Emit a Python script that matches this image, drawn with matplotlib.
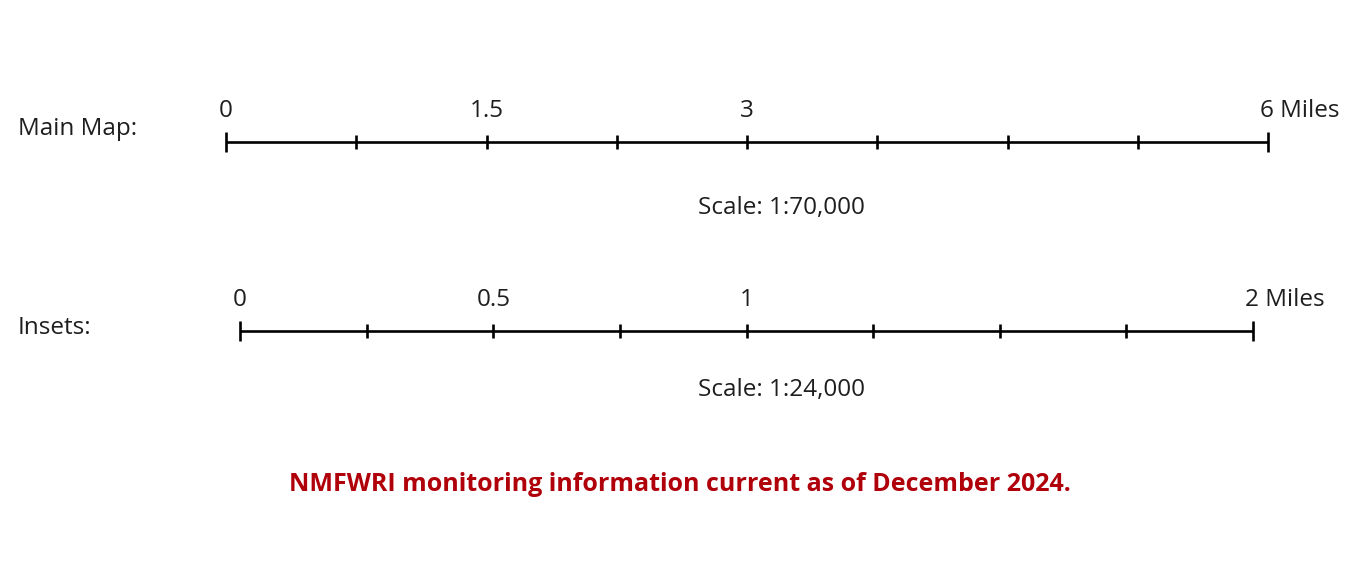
import matplotlib
matplotlib.use('Agg')
import matplotlib.pyplot as plt

plt.rcParams['font.family'] = ['Open Sans', 'DejaVu Sans']

# ── 数据 ──────────────────────────────────────────────
main_ticks = [0, 0.75, 1.5, 2.25, 3, 3.75, 4.5, 5.25, 6]
main_label_vals = [0, 1.5, 3, 6]
main_label_txt = ['0', '1.5', '3', '6 Miles']
main_scale = 'Scale: 1:70,000'

inset_ticks = [0, 0.25, 0.5, 0.75, 1, 1.25, 1.5, 1.75, 2]
inset_label_vals = [0, 0.5, 1, 2]
inset_label_txt = ['0', '0.5', '1', '2 Miles']
inset_scale = 'Scale: 1:24,000'

note = 'NMFWRI monitoring information current as of December 2024.'

W, H = 1349, 576
fig = plt.figure(figsize=(W / 100, H / 100), dpi=100)
FS = 17.5
TXT = '#1e1e1e'


def scale_bar(x0, x1, y, ticks, label_vals, label_txt):
    ax = fig.add_axes([x0 / W, 0, (x1 - x0) / W, 1])
    ax.set_xlim(ticks[0], ticks[-1])
    ax.set_ylim(H, 0)
    ax.axis('off')
    ax.plot([ticks[0], ticks[-1]], [y, y], color='black', lw=1.9,
            solid_capstyle='butt', clip_on=False)
    for i, t in enumerate(ticks):
        h = 10 if i in (0, len(ticks) - 1) else 7
        ax.plot([t, t], [y - h, y + h], color='black', lw=1.9,
                solid_capstyle='butt', clip_on=False)
    for v, s in zip(label_vals, label_txt):
        if ' ' in s:
            ax.annotate(s, (v, y - 25), xytext=(-6, 0), textcoords='offset points',
                        ha='left', va='baseline', fontsize=FS, color=TXT,
                        annotation_clip=False)
        else:
            ax.text(v, y - 25, s, ha='center', va='baseline', fontsize=FS,
                    color=TXT, clip_on=False)
    return ax


scale_bar(226, 1268, 142, main_ticks, main_label_vals, main_label_txt)
scale_bar(240, 1253, 331, inset_ticks, inset_label_vals, inset_label_txt)

fig.text(18 / W, 1 - 135 / H, 'Main Map:', ha='left', va='baseline',
         fontsize=FS, color=TXT)
fig.text(18 / W, 1 - 334 / H, 'Insets:', ha='left', va='baseline',
         fontsize=FS, color=TXT)
fig.text(781 / W, 1 - 214 / H, main_scale, ha='center', va='baseline',
         fontsize=FS, color=TXT)
fig.text(781 / W, 1 - 396 / H, inset_scale, ha='center', va='baseline',
         fontsize=FS, color=TXT)
fig.text(680 / W, 1 - 491 / H, note, ha='center', va='baseline',
         fontsize=18, fontweight='bold', color='#b0000a')

fig.savefig('out.png', dpi=100, facecolor='white')
plt.close(fig)
